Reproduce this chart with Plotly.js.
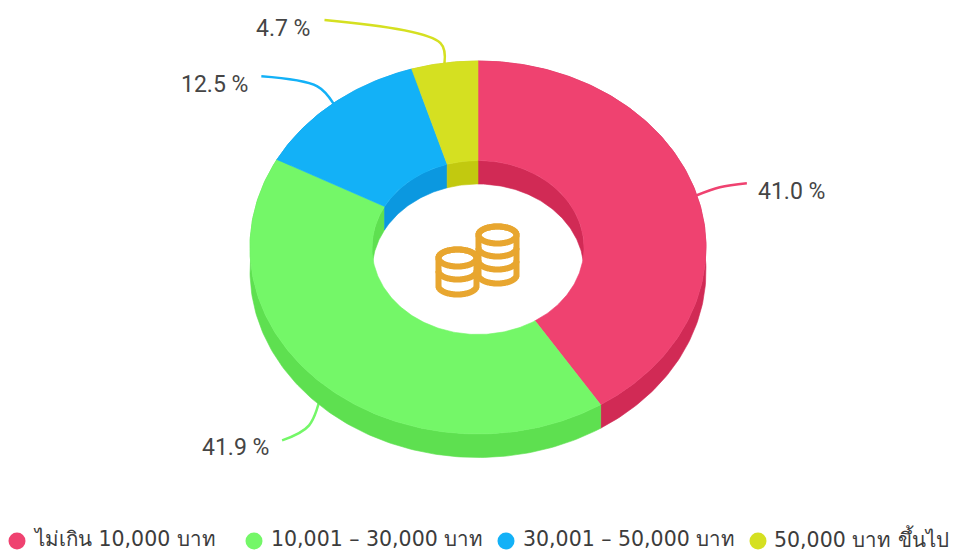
<!DOCTYPE html>
<html><head><meta charset="utf-8">
<script src="https://cdn.plot.ly/plotly-3.0.1.min.js"></script>
<style>html,body{margin:0;padding:0;background:#fff}</style></head>
<body><div id="chart" style="width:955px;height:552px"></div>
<script>
const categories = ['ไม่เกิน 10,000 บาท', '10,001 – 30,000 บาท', '30,001 – 50,000 บาท', '50,000 บาท ขึ้นไป'];
const values = [41.0, 41.9, 12.5, 4.7];
const valueLabels = ['41.0 %', '41.9 %', '12.5 %', '4.7 %'];
const colors = ['#ef4270', '#74f768', '#13b1f7', '#d5e021'];
const sideColors = ['#d12a55', '#5ee050', '#0b98e0', '#c2c90f'];

// Donut projection, in pixels of the 1:1 plot axes
const cx = 478, cy = 247.5, rx = 228, ry = 186.5, hx = 106, hy = 87, depth = 23.5;
// leader line knee and end relative to the slice anchor
const kneeOffset = [[23, -8], [-14, 41], [-16, -17], [-4, -20]];
const endOffset = [[50, -12], [-41, 56], [-72, -27], [-120, -43]];
const labelAnchor = ['left', 'right', 'right', 'right'];
const labelGap = [9, -11, -11, -12];
// legend layout
const legendSwatchX = [17, 254, 506, 758];
const legendTextX = [32, 270, 522, 773];
const legendY = 541;
const legendTextY = 538.5;

const total = values.reduce((a, b) => a + b, 0);
const pt = (deg, a, b, dy) => {
  const t = deg * Math.PI / 180;
  return [cx + a * Math.sin(t), cy - b * Math.cos(t) + (dy || 0)];
};
const arc = (d0, d1, a, b, dy) => {
  const out = [], n = Math.max(2, Math.ceil(Math.abs(d1 - d0)));
  for (let i = 0; i <= n; i++) out.push(pt(d0 + (d1 - d0) * i / n, a, b, dy));
  return out;
};
const poly = (pts, color, name) => ({
  x: pts.map(p => p[0]).concat([pts[0][0]]), y: pts.map(p => p[1]).concat([pts[0][1]]),
  type: 'scatter', mode: 'lines', fill: 'toself', fillcolor: color, name: name,
  line: {color: color, width: 0.6},
  hoverinfo: 'skip', showlegend: false
});

const spans = [];
let acc = 0;
values.forEach(v => { const s = acc / total * 360; acc += v; spans.push([s, acc / total * 360]); });

const traces = [];
spans.forEach((s, i) => {
  const a = pt((s[0] + s[1]) / 2, rx, ry);
  traces.push({
    x: [a[0], a[0] + kneeOffset[i][0], a[0] + endOffset[i][0]],
    y: [a[1], a[1] + kneeOffset[i][1], a[1] + endOffset[i][1]],
    type: 'scatter', mode: 'lines', line: {color: colors[i], width: 2.5, shape: 'spline', smoothing: 1},
    hoverinfo: 'skip', showlegend: false
  });
});
spans.forEach((s, i) => {
  traces.push(poly(arc(s[0], s[1], rx, ry).concat(arc(s[1], s[0], rx, ry, depth)), sideColors[i], categories[i]));
});
spans.forEach((s, i) => {
  [[0, 90], [270, 360]].forEach(r => {
    const d0 = Math.max(s[0], r[0]), d1 = Math.min(s[1], r[1]);
    if (d1 > d0) traces.push(poly(arc(d0, d1, hx, hy).concat(arc(d1, d0, hx, hy, depth)), sideColors[i], categories[i]));
  });
});
spans.forEach((s, i) => {
  traces.push(poly(arc(s[0], s[1], rx, ry).concat(arc(s[1], s[0], hx, hy)), colors[i], categories[i]));
});

const annotations = spans.map((s, i) => {
  const a = pt((s[0] + s[1]) / 2, rx, ry);
  return {
    x: a[0] + endOffset[i][0] + labelGap[i], y: a[1] + endOffset[i][1] + (i === 1 ? 7 : 8),
    xref: 'x', yref: 'y', text: valueLabels[i], showarrow: false,
    xanchor: labelAnchor[i], yanchor: 'middle',
    font: {family: 'Roboto, sans-serif', size: 23, color: '#454545'}
  };
}).concat(categories.map((c, i) => ({
  x: legendTextX[i], y: legendTextY, xref: 'x', yref: 'y', text: c, showarrow: false,
  xanchor: 'left', yanchor: 'middle', xshift: -1,
  font: {family: '"DejaVu Sans", sans-serif', size: 20.5, color: '#3c3c3c'}
})));

// coin icon
const coinColor = '#e8a62f';
const ellipsePath = (x0, y0, a, b, d0, d1) =>
  arc(d0, d1, a, b).map((p, i) => (i ? 'L' : 'M') + (p[0] - cx + x0).toFixed(1) + ',' + (p[1] - cy + y0).toFixed(1)).join(' ');
const stack = (x0, y0, bottoms) => {
  const a = 19, b = 8.5, last = bottoms[bottoms.length - 1];
  const out = [];
  const line = {color: coinColor, width: 6};
  out.push({type: 'path', xref: 'x', yref: 'y', line: line, fillcolor: '#ffffff',
    path: ellipsePath(x0, y0, a, b, 270, 450) + ' ' + ellipsePath(x0, last, a, b, 90, 270).replace('M', 'L') + ' Z'});
  bottoms.slice(0, -1).forEach(v => out.push({type: 'path', xref: 'x', yref: 'y', line: line,
    path: ellipsePath(x0, v, a, b, 90, 270)}));
  out.push({type: 'path', xref: 'x', yref: 'y', line: line, path: ellipsePath(x0, y0, a, b, 0, 360) + ' Z'});
  return out;
};
const swatches = legendSwatchX.map((x, i) => ({
  type: 'circle', xref: 'x', yref: 'y', x0: x - 8.5, x1: x + 8.5, y0: legendY - 8.5, y1: legendY + 8.5,
  fillcolor: colors[i], line: {width: 0}
}));
const shapes = stack(497.5, 235, [248, 261, 275]).concat(stack(457.5, 258, [271, 286])).concat(swatches);

Plotly.newPlot('chart', traces, {
  width: 955, height: 552, margin: {l: 0, r: 0, t: 0, b: 0},
  paper_bgcolor: '#fff', plot_bgcolor: '#fff',
  xaxis: {range: [0, 955], visible: false, fixedrange: true},
  yaxis: {range: [552, 0], visible: false, fixedrange: true},
  annotations: annotations, shapes: shapes,
  showlegend: false,
  hovermode: false
}, {displayModeBar: false, staticPlot: true});
</script></body></html>
